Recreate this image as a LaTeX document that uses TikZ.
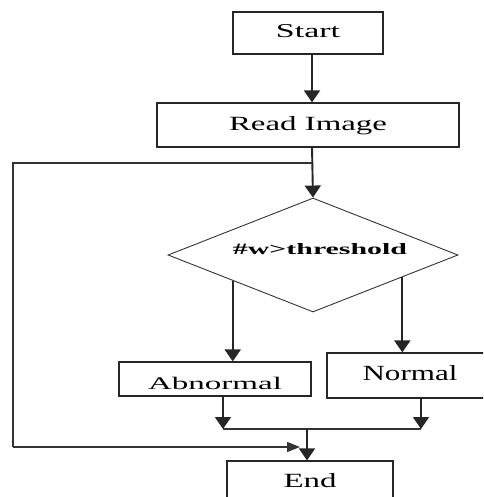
\documentclass[tikz,border=0pt]{standalone}
\usepackage{fontspec}
\setmainfont{Liberation Serif}
\usetikzlibrary{arrows.meta,shapes.geometric}
% text stretched to a given width and height (pt)
\newcommand{\fitlabel}[3]{\resizebox{#1pt}{#2pt}{#3}}
\begin{document}
\begin{tikzpicture}[x=1pt,y=-1pt,
  box/.style={draw=black!85,line width=1.2pt,rectangle,inner sep=0pt},
  decision/.style={draw=black!80,line width=0.9pt,diamond,inner sep=0pt,
    aspect=2.54,minimum width=290pt,minimum height=114pt},
  flow/.style={draw=black!85,line width=1.9pt,-{Triangle[width=16pt,length=12pt]}},
  route/.style={draw=black!80,line width=1.3pt},
  sidearrow/.style={route,-{Triangle[width=10pt,length=13pt]}}]
\useasboundingbox (0,0) rectangle (483,497);
\clip (0,0) rectangle (483,497);

% process boxes
\node[box,minimum width=150pt,minimum height=42pt,text height=13pt,text depth=3pt]
  (start) at (308,33) {\fitlabel{64}{13}{Start}};
\node[box,minimum width=302pt,minimum height=44pt,text height=14pt,text depth=2.6pt]
  (read) at (308,125) {\fitlabel{158}{14}{Read Image}};
\node[decision,text height=11pt,text depth=13pt]
  (dec) at (313,255) {\hspace*{14pt}\fitlabel{174}{11}{\textbf{\#w>threshold}}};
\node[box,minimum width=192pt,minimum height=34pt,text height=20.3pt,text depth=0pt]
  (abn) at (215,379) {\fitlabel{134}{12.3}{Abnormal}};
\node[box,minimum width=166pt,minimum height=45pt,text height=15pt,text depth=6pt]
  (nor) at (410,375.5) {\fitlabel{95}{15}{Normal}};
\node[box,minimum width=166pt,minimum height=39pt,text height=14pt,text depth=1pt]
  (end) at (310,480.5) {\fitlabel{53}{14}{End}};

% points on the lower sides of the decision
\path (dec.west) -- (dec.south) coordinate[pos=0.448] (dl);
\path (dec.east) -- (dec.south) coordinate[pos=0.386] (dr);

% junctions
\coordinate (split) at (312,163);
\coordinate (leftcorner) at (13,163);
\coordinate (loopin) at (300,447);
\coordinate (mergeL) at (223,429);
\coordinate (mergeR) at (421,429);
\coordinate (mergeC) at (307,429);

% connectors
\draw[flow] ([xshift=4pt]start.south) -- ([xshift=4pt]read.north);
\draw[flow] ([xshift=4pt]read.south) -- (dec.north);
\draw[flow] (dl) -- (dl |- abn.north);
\draw[flow] (dr) -- (dr |- nor.north);
\draw[flow] (abn.south -| mergeL) -- (mergeL);
\draw[flow] (nor.south -| mergeR) -- (mergeR);
\draw[route] (mergeL) -- (mergeR);
\draw[flow] (mergeC) -- (mergeC |- end.north);
\draw[route] (split) -- (leftcorner) -- (leftcorner |- loopin);
\draw[sidearrow] (leftcorner |- loopin) -- (loopin);
\end{tikzpicture}
\end{document}
